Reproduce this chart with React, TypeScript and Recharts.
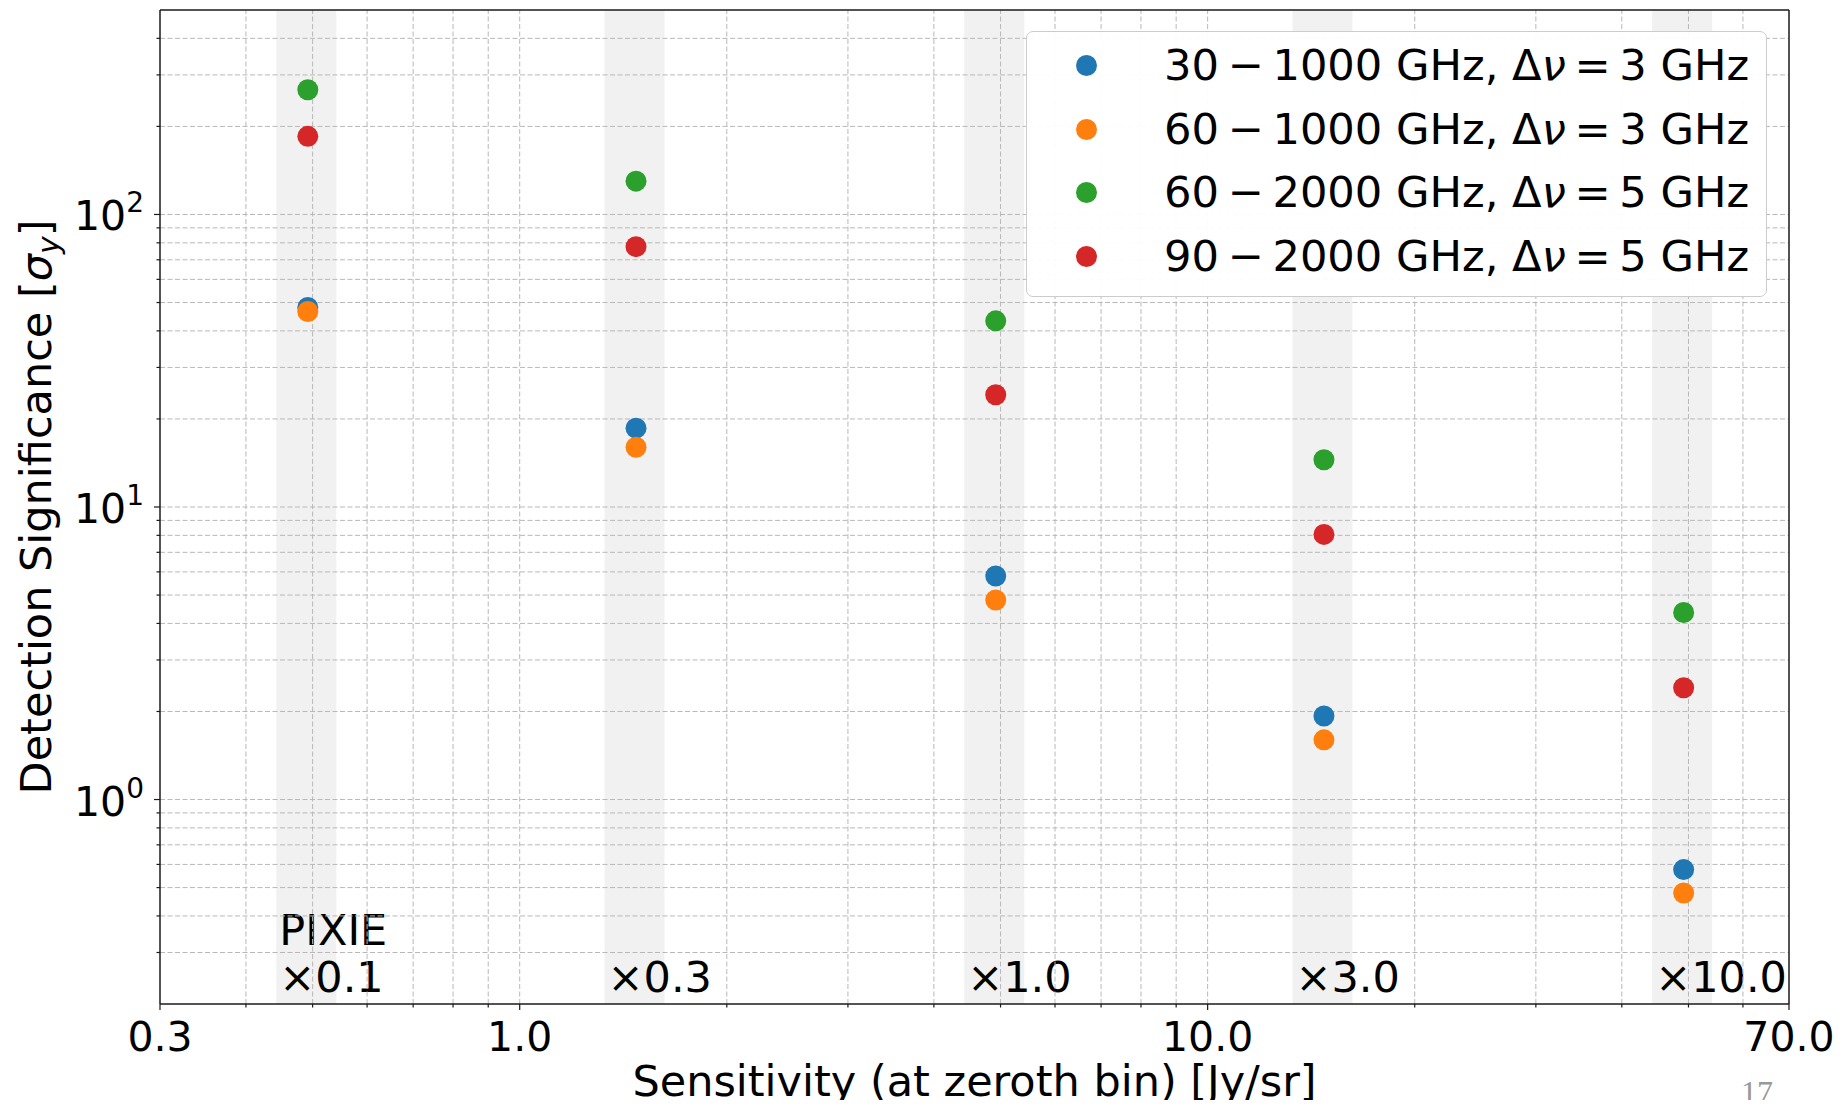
import { ScatterChart, Scatter, XAxis, YAxis, ReferenceArea, ReferenceLine, Legend } from "recharts";

// sensitivity at zeroth bin [Jy/sr] for each PIXIE multiple
const sensitivities = [0.492, 1.476, 4.92, 14.76, 49.2];
const multiplierLabels = ["×0.1", "×0.3", "×1.0", "×3.0", "×10.0"];

// detection significance per frequency configuration
const sig30to1000 = [48.1, 18.6, 5.81, 1.93, 0.576];
const sig60to1000 = [46.6, 16.0, 4.81, 1.6, 0.479];
const sig60to2000 = [267, 130, 43.3, 14.5, 4.36];
const sig90to2000 = [185, 77.6, 24.2, 8.06, 2.41];

const rangeLow = [30, 60, 60, 90];
const rangeHigh = [1000, 1000, 2000, 2000];
const resolutions = [3, 3, 5, 5];
const colors = ["#1f77b4", "#ff7f0e", "#2ca02c", "#d62728"];

const xMajorTicks = [0.3, 1, 10, 70];
const xMinorTicks = [0.4, 0.5, 0.6, 0.7, 0.8, 0.9, 2, 3, 4, 5, 6, 7, 8, 9, 20, 30, 40, 50, 60];
const yMajorTicks = [1, 10, 100];
const yMinorTicks = [0.3, 0.4, 0.5, 0.6, 0.7, 0.8, 0.9, 2, 3, 4, 5, 6, 7, 8, 9, 20, 30, 40, 50, 60, 70, 80, 90, 200, 300, 400];

const FONT = "'DejaVu Sans', sans-serif";

const seriesValues = [sig30to1000, sig60to1000, sig60to2000, sig90to2000];
const series = seriesValues.map((vals, i) => ({
    name: `${rangeLow[i]} − ${rangeHigh[i]} GHz, Δν = ${resolutions[i]} GHz`,
    color: colors[i],
    data: vals.map((v, j) => ({ x: sensitivities[j], y: v })),
}));

const XTick = ({ x, y, payload }: any) => {
    const v = payload.value;
    const major = xMajorTicks.includes(v);
    return (
        <g>
            <line x1={x} x2={x} y1={y} y2={y + (major ? 6 : 3.5)} stroke="#1a1a1a" strokeWidth={1.2} />
            {major && (
                <text x={x} y={y + 47} textAnchor="middle" fontSize={41} fontFamily={FONT} fill="#000">
                    {v.toFixed(1)}
                </text>
            )}
        </g>
    );
};

const YTick = ({ x, y, payload }: any) => {
    const v = payload.value;
    const major = yMajorTicks.includes(v);
    return (
        <g>
            <line x1={x} x2={x - (major ? 6 : 3.5)} y1={y} y2={y} stroke="#1a1a1a" strokeWidth={1.2} />
            {major && (
                <text x={x - 16} y={y + 16} textAnchor="end" fontSize={41} fontFamily={FONT} fill="#000">
                    10
                    <tspan dy={-18} fontSize={28}>{Math.round(Math.log10(v))}</tspan>
                </text>
            )}
        </g>
    );
};

const BandLabel = ({ viewBox, text, pixie }: any) => {
    const x = viewBox.x + 3;
    const bottom = viewBox.y + viewBox.height;
    return (
        <g fontFamily={FONT} fontSize={43} fill="#000">
            {pixie && <text x={x} y={bottom - 59}>PIXIE</text>}
            <text x={x} y={bottom - 12.3}>{text}</text>
        </g>
    );
};

const Op = ({ c }: { c: string }) => <span style={{ margin: "0 0.2em" }}>{c}</span>;

const LegendBox = ({ payload }: any) => (
    <div
        style={{
            width: 741,
            height: 266,
            boxSizing: "border-box",
            border: "1.5px solid #cccccc",
            borderRadius: 7,
            background: "rgba(255,255,255,0.95)",
            paddingTop: 2,
            fontFamily: FONT,
            fontSize: 43.2,
            color: "#000",
        }}
    >
        {(payload || []).map((p: any, i: number) => (
            <div key={p.value} style={{ position: "relative", height: 63.6, lineHeight: "63.6px", whiteSpace: "nowrap" }}>
                <span
                    style={{
                        position: "absolute",
                        left: 49,
                        top: 21.3,
                        width: 21,
                        height: 21,
                        borderRadius: "50%",
                        background: p.color,
                    }}
                />
                <span style={{ position: "absolute", left: 137 }}>
                    {rangeLow[i]}
                    <Op c="−" />
                    {rangeHigh[i]} GHz, Δ<i>ν</i>
                    <Op c="=" />
                    {resolutions[i]} GHz
                </span>
            </div>
        ))}
    </div>
);

const Dot = (color: string) => (props: any) => <circle cx={props.cx} cy={props.cy} r={10.5} fill={color} />;

const gridStyle = { stroke: "#b8b8b8", strokeWidth: 1, strokeDasharray: "5 2.5" };

export default function App() {
    return (
        <div style={{ position: "relative", margin: -8, width: 1843, height: 1108, background: "#fff" }}>
            <ScatterChart width={1843} height={1108} margin={{ top: 10, right: 54, bottom: 0, left: 0 }}>
                <XAxis
                    type="number"
                    dataKey="x"
                    scale="log"
                    domain={[0.3, 70]}
                    allowDataOverflow
                    ticks={[...xMajorTicks, ...xMinorTicks]}
                    interval={0}
                    tick={<XTick />}
                    tickSize={0}
                    tickMargin={0}
                    tickLine={false}
                    height={104}
                    axisLine={{ stroke: "#1a1a1a", strokeWidth: 1.5 }}
                    label={{
                        content: ({ viewBox }: any) => (
                            <text x={viewBox.x + viewBox.width / 2} y={1096} textAnchor="middle" fontSize={43} fontFamily={FONT} fill="#000">
                                Sensitivity (at zeroth bin) [Jy/sr]
                            </text>
                        ),
                    }}
                />
                <YAxis
                    type="number"
                    dataKey="y"
                    scale="log"
                    domain={[0.2, 500]}
                    allowDataOverflow
                    ticks={[...yMajorTicks, ...yMinorTicks]}
                    interval={0}
                    tick={<YTick />}
                    tickSize={0}
                    tickMargin={0}
                    tickLine={false}
                    width={160}
                    axisLine={{ stroke: "#1a1a1a", strokeWidth: 1.5 }}
                    label={{
                        content: ({ viewBox }: any) => {
                            const cy = viewBox.y + viewBox.height / 2;
                            return (
                                <text
                                    x={51}
                                    y={cy}
                                    transform={`rotate(-90, 51, ${cy})`}
                                    textAnchor="middle"
                                    fontSize={43}
                                    fontFamily={FONT}
                                    fill="#000"
                                >
                                    Detection Significance [<tspan fontStyle="italic">σ</tspan>
                                    <tspan fontStyle="italic" fontSize={30} dy={8}>y</tspan>
                                    <tspan dy={-8}>]</tspan>
                                </text>
                            );
                        },
                    }}
                />

                {sensitivities.map((s, i) => (
                    <ReferenceArea
                        key={`band-${i}`}
                        x1={s * 0.9}
                        x2={s * 1.1}
                        y1={0.2}
                        y2={500}
                        fill="#f1f1f1"
                        fillOpacity={1}
                        stroke="none"
                        label={(props: any) => <BandLabel {...props} text={multiplierLabels[i]} pixie={i === 0} />}
                    />
                ))}

                {[...xMajorTicks.slice(1, 3), ...xMinorTicks].map((v) => (
                    <ReferenceLine key={`vx-${v}`} x={v} {...gridStyle} />
                ))}
                {[...yMajorTicks, ...yMinorTicks].map((v) => (
                    <ReferenceLine key={`hy-${v}`} y={v} {...gridStyle} />
                ))}
                <ReferenceLine x={70} stroke="#1a1a1a" strokeWidth={1.5} />
                <ReferenceLine y={500} stroke="#1a1a1a" strokeWidth={1.5} />

                {series.map((s) => (
                    <Scatter
                        key={s.name}
                        name={s.name}
                        data={s.data}
                        fill={s.color}
                        shape={Dot(s.color)}
                        isAnimationActive={false}
                    />
                ))}

                <Legend
                    layout="vertical"
                    align="center"
                    verticalAlign="middle"
                    content={<LegendBox />}
                    wrapperStyle={{ left: 1026, top: 31, width: 741, height: 266, right: "auto", bottom: "auto" }}
                />
            </ScatterChart>
            <span
                style={{
                    position: "absolute",
                    left: 1741,
                    top: 1076,
                    fontFamily: "'Liberation Serif', serif",
                    fontSize: 32,
                    lineHeight: 1,
                    color: "#999",
                }}
            >
                17
            </span>
        </div>
    );
}
